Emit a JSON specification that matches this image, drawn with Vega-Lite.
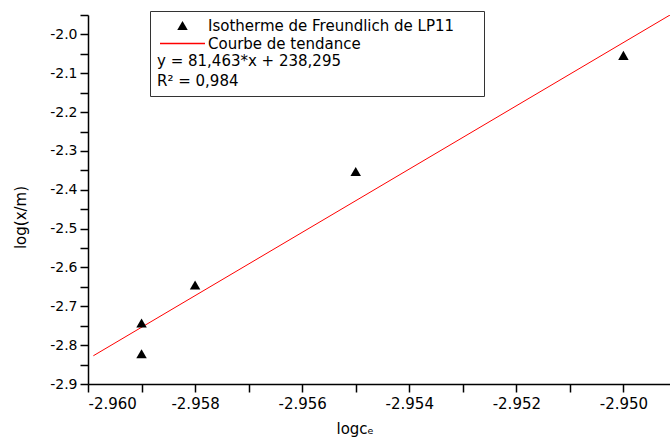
{
  "$schema": "https://vega.github.io/schema/vega-lite/v6.json",
  "width": 582,
  "height": 369,
  "autosize": "none",
  "padding": {"left": 88, "top": 15, "right": 0, "bottom": 59},
  "background": "white",
  "config": {"view": {"stroke": null}, "font": "DejaVu Sans"},
  "encoding": {
    "x": {"field": "logce", "type": "quantitative",
      "scale": {"domain": [-2.96, -2.94913], "nice": false, "zero": false},
      "axis": {
        "values": [-2.960, -2.959, -2.958, -2.957, -2.956, -2.955, -2.954, -2.953, -2.952, -2.951, -2.950],
        "labelExpr": "abs(round(datum.value*1000)) % 2 == 0 ? replace(format(datum.value, '.3f'), '\u2212', '-') : ''",
        "tickSize": 8,
        "encode": {"ticks": {"update": {"y2": {"signal": "abs(round(datum.value*1000)) % 2 == 0 ? 8 : 5"}}}},
        "grid": false,
        "domainColor": "black", "domainWidth": 1.5,
        "tickColor": "black", "tickWidth": 1.5,
        "labelColor": "black", "labelFont": "DejaVu Sans", "labelFontSize": 15, "labelPadding": 4,
        "title": "logc\u2091",
        "titleFont": "DejaVu Sans", "titleFontSize": 15, "titleFontWeight": "normal", "titleColor": "black",
        "titleX": 248, "titleY": 49, "titleAlign": "left", "titleBaseline": "alphabetic"
      }
    },
    "y": {"field": "logxm", "type": "quantitative",
      "scale": {"domain": [-2.9, -1.95], "nice": false, "zero": false},
      "axis": {
        "values": [-2.9, -2.85, -2.8, -2.75, -2.7, -2.65, -2.6, -2.55, -2.5, -2.45, -2.4, -2.35, -2.3, -2.25, -2.2, -2.15, -2.1, -2.05, -2.0, -1.95],
        "labelExpr": "abs(datum.value*10 - round(datum.value*10)) < 0.001 ? replace(format(datum.value, '.1f'), '\u2212', '-') : ''",
        "tickSize": 8,
        "encode": {"ticks": {"update": {"x2": {"signal": "abs(datum.value*10 - round(datum.value*10)) < 0.001 ? -8 : -5"}}}},
        "grid": false,
        "domainColor": "black", "domainWidth": 1.5,
        "tickColor": "black", "tickWidth": 1.5,
        "labelColor": "black", "labelFont": "DejaVu Sans", "labelFontSize": 14, "labelPadding": 3,
        "title": "log(x/m)",
        "titleFont": "DejaVu Sans", "titleFontSize": 15, "titleFontWeight": "normal", "titleColor": "black",
        "titleX": -68, "titleY": 202, "titleAngle": -90, "titleAlign": "center", "titleBaseline": "middle"
      }
    },
    "color": {"field": "series", "type": "nominal",
      "scale": {"domain": ["Isotherme de Freundlich de LP11", "Courbe de tendance"], "range": ["black", "red"]},
      "legend": {
        "orient": "none", "legendX": 62, "legendY": -4, "direction": "vertical",
        "title": ["y = 81,463*x + 238,295", "R\u00b2 = 0,984"],
        "titleOrient": "bottom", "titleAnchor": "start", "titleAlign": "left",
        "titleFont": "DejaVu Sans", "titleFontSize": 15, "titleFontWeight": "normal", "titleColor": "black",
        "titleLineHeight": 20, "titlePadding": 2, "titleLimit": 600,
        "labelFont": "DejaVu Sans", "labelFontSize": 15, "labelColor": "black", "labelLimit": 600, "labelOffset": 18,
        "symbolOffset": 18,
        "labelExpr": "datum.label + '\u2800\u2800'",
        "symbolSize": 2025, "symbolStrokeWidth": 1,
        "rowPadding": 2,
        "strokeColor": "#333", "fillColor": "white", "padding": 7, "cornerRadius": 0,
        "encode": {"symbols": {"update": {
          "shape": {"signal": "datum.value === 'Courbe de tendance' ? 'M-1,-0.028L1,-0.028L1,0.028L-1,0.028Z' : 'triangle-up'"},
          "size": {"signal": "datum.value === 'Courbe de tendance' ? 2025 : 110"},
          "fill": {"signal": "datum.value === 'Courbe de tendance' ? '#ff0000' : '#000000'"},
          "stroke": {"value": "transparent"},
          "strokeWidth": {"value": 0},
          "fillOpacity": {"value": 1},
          "opacity": {"value": 1}
        }}}
      }
    }
  },
  "layer": [
    {
      "data": {"values": [
        {"logce": -2.9599, "logxm": -2.8273, "series": "Courbe de tendance"},
        {"logce": -2.94913, "logxm": -1.9500, "series": "Courbe de tendance"}
      ]},
      "mark": {"type": "line", "strokeWidth": 1, "clip": true}
    },
    {
      "data": {"values": [
        {"logce": -2.959, "logxm": -2.743, "series": "Isotherme de Freundlich de LP11"},
        {"logce": -2.959, "logxm": -2.822, "series": "Isotherme de Freundlich de LP11"},
        {"logce": -2.958, "logxm": -2.645, "series": "Isotherme de Freundlich de LP11"},
        {"logce": -2.955, "logxm": -2.353, "series": "Isotherme de Freundlich de LP11"},
        {"logce": -2.950, "logxm": -2.054, "series": "Isotherme de Freundlich de LP11"}
      ]},
      "mark": {"type": "point", "shape": "triangle-up", "filled": true, "size": 110, "opacity": 1}
    }
  ]
}
